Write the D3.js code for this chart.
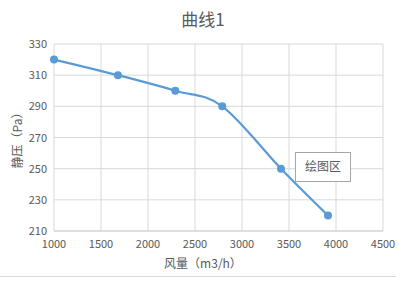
<!DOCTYPE html>
<html>
<head>
<meta charset="utf-8">
<script src="https://cdn.jsdelivr.net/npm/d3@7"></script>
<style>
  body { margin: 0; background: #fff; }
  text { font-family: "Noto Sans CJK SC", "Noto Sans", sans-serif; fill: #595959; }
</style>
</head>
<body>
<div id="chart"></div>
<script>
const flow = [1000, 1680, 2290, 2790, 3415, 3915];
const pressure = [320, 310, 300, 290, 250, 220];
const xTicks = [1000, 1500, 2000, 2500, 3000, 3500, 4000, 4500];
const yTicks = [210, 230, 250, 270, 290, 310, 330];
const title = '曲线1';
const xTitle = '风量（m3/h）';
const yTitle = '静压（Pa）';
const tipText = '绘图区';

var W = 406, H = 287;
var margin = {top: 44, right: 23, bottom: 56, left: 54},
    width = W - margin.left - margin.right,
    height = H - margin.top - margin.bottom;

var root = d3.select('#chart').append('svg')
    .attr('width', W).attr('height', H);

var svg = root.append('g')
    .attr('transform', 'translate(' + margin.left + ',' + margin.top + ')');

var x = d3.scaleLinear().domain([1000, 4500]).range([0, width]);
var y = d3.scaleLinear().domain([210, 330]).range([height, 0]);

// grid
svg.selectAll('.vgrid').data(xTicks).enter().append('line')
    .attr('x1', d => x(d)).attr('x2', d => x(d))
    .attr('y1', 0).attr('y2', height)
    .attr('stroke', '#d9d9d9').attr('stroke-width', 1);
svg.selectAll('.hgrid').data(yTicks).enter().append('line')
    .attr('x1', 0).attr('x2', width)
    .attr('y1', d => y(d)).attr('y2', d => y(d))
    .attr('stroke', d => d === 210 ? '#bfbfbf' : '#d9d9d9').attr('stroke-width', 1);

// tick labels
svg.selectAll('.xl').data(xTicks).enter().append('text')
    .attr('x', d => x(d)).attr('y', height + 17)
    .attr('text-anchor', 'middle').attr('font-size', 11)
    .text(d => d);
svg.selectAll('.yl').data(yTicks).enter().append('text')
    .attr('x', -7).attr('y', d => y(d) + 4)
    .attr('text-anchor', 'end').attr('font-size', 11)
    .text(d => d);

// curve
var pts = flow.map((f, i) => [f, pressure[i]]);
var line = d3.line()
    .x(d => x(d[0])).y(d => y(d[1]))
    .curve(d3.curveCardinal.tension(0));
svg.append('path').datum(pts)
    .attr('d', line).attr('fill', 'none')
    .attr('stroke', '#5b9bd5').attr('stroke-width', 2.2);
svg.selectAll('.pt').data(pts).enter().append('circle')
    .attr('cx', d => x(d[0])).attr('cy', d => y(d[1]))
    .attr('r', 4).attr('fill', '#5b9bd5');

// titles
root.append('text').attr('x', 203).attr('y', 26)
    .attr('text-anchor', 'middle').attr('font-size', 17).text(title);
root.append('text').attr('x', 203).attr('y', 268)
    .attr('text-anchor', 'middle').attr('font-size', 12).text(xTitle);
root.append('text')
    .attr('transform', 'translate(22,' + (margin.top + height / 2) + ') rotate(-90)')
    .attr('text-anchor', 'middle').attr('font-size', 12).text(yTitle);

// tooltip box
root.append('rect').attr('x', 295.5).attr('y', 152.5).attr('width', 55).attr('height', 29)
    .attr('fill', '#fff').attr('stroke', '#a6a6a6');
root.append('text').attr('x', 323).attr('y', 171)
    .attr('text-anchor', 'middle').attr('font-size', 12).text(tipText);

// bottom border
root.append('line').attr('x1', 0).attr('x2', 396).attr('y1', 276.5).attr('y2', 276.5)
    .attr('stroke', '#d9d9d9');
</script>
</body>
</html>
